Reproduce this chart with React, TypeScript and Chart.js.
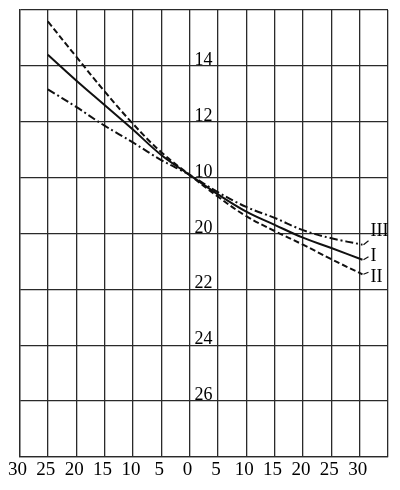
import React, { useEffect, useRef } from "react";
import { Chart, registerables } from "chart.js";

Chart.register(...registerables);

// x positions of the read points
const xValues = [-25, -20, -15, -10, -5, 0, 5, 10, 15, 20, 25, 30.5];
// curve I (solid), II (dashed), III (dash-dot)
const curveI = [14.4, 13.48, 12.6, 11.72, 10.81, 10.1, 9.4, 8.78, 8.31, 7.85, 7.48, 7.06];
const curveII = [15.59, 14.33, 13.09, 11.93, 10.91, 10.1, 9.32, 8.62, 8.09, 7.6, 7.08, 6.54];
const curveIII = [13.16, 12.53, 11.86, 11.26, 10.63, 10.1, 9.48, 8.95, 8.56, 8.12, 7.83, 7.6];
const curveNames = ["I", "II", "III"];

// x tick labels, one per grid line from -30 to 35
const xTickLabels = ["30", "25", "20", "15", "10", "5", "0", "5", "10", "15", "20", "25", "30", ""];
// y labels printed beside the centre line
const yLabelValues = [14, 12, 10, 8, 6, 4, 2];
const yLabelTexts = ["14", "12", "10", "20", "22", "24", "26"];

const FONT = '"Liberation Serif", "Times New Roman", serif';

const annotPlugin = {
  id: "annot",
  afterDatasetsDraw(chart: any) {
    const { ctx, scales } = chart;
    const xs = scales.x;
    const ys = scales.y;
    ctx.save();
    ctx.fillStyle = "#000";
    ctx.textAlign = "left";
    ctx.textBaseline = "alphabetic";
    ctx.font = `18px ${FONT}`;
    const x0 = xs.getPixelForValue(0);
    yLabelValues.forEach((v, i) => {
      ctx.fillText(yLabelTexts[i], x0 + 5, ys.getPixelForValue(v) - 1);
    });
    // curve names with short leaders
    const leaderDy: Record<string, number> = { I: -3, II: -2, III: -4 };
    const textDy: Record<string, number> = { I: -3, II: 3, III: -13 };
    ctx.font = `18px ${FONT}`;
    ctx.textBaseline = "middle";
    ctx.strokeStyle = "#111";
    ctx.lineWidth = 1.2;
    chart.data.datasets.forEach((ds: any, i: number) => {
      const meta = chart.getDatasetMeta(i);
      const last = meta.data[meta.data.length - 1];
      const name = curveNames[i];
      ctx.beginPath();
      ctx.moveTo(last.x + 1, last.y);
      ctx.lineTo(last.x + 6, last.y + leaderDy[name]);
      ctx.stroke();
      ctx.fillText(name, last.x + 8, last.y + textDy[name]);
    });
    ctx.restore();
  },
};

export default function App() {
  const ref = useRef<HTMLCanvasElement>(null);
  useEffect(() => {
    if (!ref.current) return;
    const mk = (vals: number[]) => xValues.map((x, i) => ({ x, y: vals[i] }));
    const common = {
      borderColor: "#111",
      borderWidth: 2,
      pointRadius: 0,
      fill: false,
      tension: 0.4,
    };
    const chart = new Chart(ref.current, {
      type: "line",
      data: {
        datasets: [
          { ...common, label: curveNames[0], data: mk(curveI) },
          { ...common, label: curveNames[1], data: mk(curveII), borderDash: [6, 3] },
          { ...common, label: curveNames[2], data: mk(curveIII), borderDash: [8, 3, 2, 3] },
        ],
      },
      options: {
        responsive: false,
        animation: false,
        layout: { padding: { left: 9, top: 2, right: 4, bottom: 0 } },
        plugins: { legend: { display: false }, tooltip: { enabled: false } },
        scales: {
          x: {
            type: "linear",
            min: -30,
            max: 35,
            afterFit: (s: any) => {
              s.height = 25;
            },
            ticks: {
              stepSize: 5,
              autoSkip: false,
              maxRotation: 0,
              padding: 2,
              labelOffset: -2,
              color: "#000",
              font: { family: FONT, size: 19 },
              callback: (_v: any, i: number) => xTickLabels[i],
            },
            grid: { color: "#2a2a2a", lineWidth: 1.3, drawTicks: false },
            border: { color: "#2a2a2a", width: 1.3 },
          },
          y: {
            type: "linear",
            min: 0,
            max: 16,
            ticks: { display: false, stepSize: 2 },
            grid: { color: "#2a2a2a", lineWidth: 1.3, drawTicks: false },
            border: { color: "#2a2a2a", width: 1.3 },
          },
        },
      },
      plugins: [annotPlugin],
    });
    return () => chart.destroy();
  }, []);
  return (
    <div style={{ width: 384, height: 474 }}>
      <canvas ref={ref} width={384} height={474} style={{ display: "block" }} />
    </div>
  );
}
